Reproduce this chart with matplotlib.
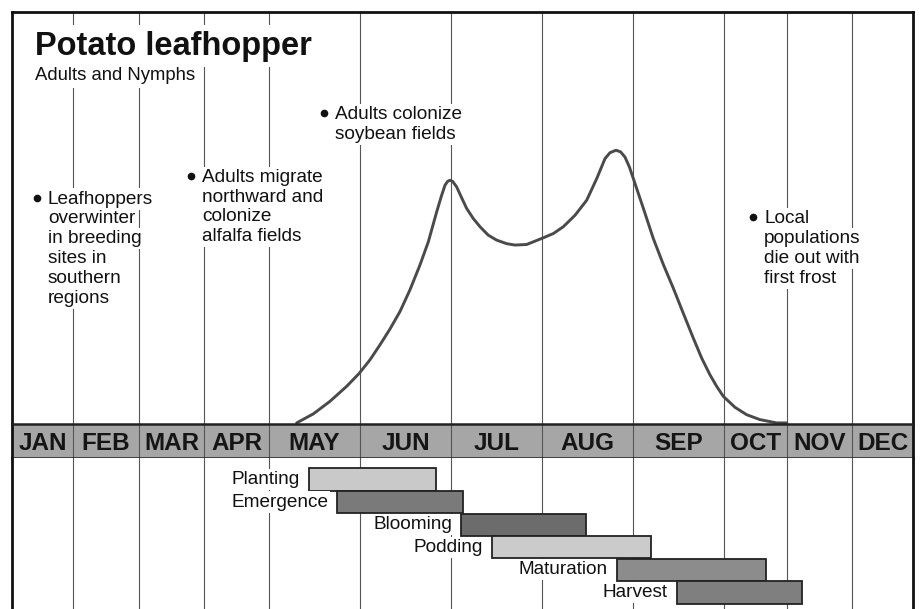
import matplotlib.pyplot as plt
import matplotlib.transforms as mtransforms
import numpy as np

plt.rcParams['font.family'] = ['Liberation Sans', 'DejaVu Sans']

months = ['JAN', 'FEB', 'MAR', 'APR', 'MAY', 'JUN',
          'JUL', 'AUG', 'SEP', 'OCT', 'NOV', 'DEC']
# drawn width of each month column; the growing season is stretched out
month_width = [61, 66, 65, 65, 91, 91, 91, 91, 91, 63, 65, 61]

# relative leafhopper abundance, time in months since Jan 1
season_t = [4.304, 4.487, 4.670, 4.854, 4.993, 5.110, 5.220, 5.330, 5.440,
            5.549, 5.659, 5.751, 5.843, 5.897, 5.934, 5.963, 5.989, 6.018,
            6.062, 6.117, 6.172, 6.245, 6.319, 6.410, 6.502, 6.612, 6.703,
            6.831, 6.996, 7.124, 7.234, 7.363, 7.491, 7.601, 7.692, 7.747,
            7.813, 7.864, 7.912, 7.960, 8.004, 8.114, 8.223, 8.333, 8.443,
            8.553, 8.663, 8.755, 8.846, 8.919, 8.993, 9.175, 9.360, 9.571,
            9.837, 9.995]
abundance = [0, 3.3, 7.9, 13.4, 18.2, 23.1, 28.6, 34.4, 40.8,
             48.7, 57.8, 66.3, 77.3, 83.3, 87.0, 88.4, 88.8, 88.4,
             86.4, 82.4, 78.5, 74.8, 71.8, 68.7, 66.9, 65.6, 65.1,
             65.3, 67.5, 69.3, 71.8, 76.0, 81.5, 89.4, 96.7, 98.9,
             99.8, 99.2, 97.3, 93.7, 89.4, 78.5, 67.5, 58.0, 49.3,
             40.1, 31.0, 23.7, 17.6, 13.4, 9.7, 5.7, 3.0, 1.2,
             0, 0]

# soybean crop stages
stages = ['Planting', 'Emergence', 'Blooming', 'Podding', 'Maturation', 'Harvest']
stage_start = [4.44, 4.75, 6.11, 6.45, 7.82, 8.48]
stage_end = [5.84, 6.13, 7.48, 8.20, 9.67, 10.23]
stage_color = ['#c9c9c9', '#7a7a7a', '#6c6c6c', '#cbcbcb', '#8c8c8c', '#7f7f7f']

notes = [
    (0.59, 80.3, ['Leafhoppers', 'overwinter', 'in breeding', 'sites in',
                  'southern', 'regions']),
    (2.97, 88.3, ['Adults migrate', 'northward and', 'colonize',
                  'alfalfa fields']),
    (4.725, 111.3, ['Adults colonize', 'soybean fields']),
    (9.635, 73.0, ['Local', 'populations', 'die out with', 'first frost']),
]

edges = np.concatenate([[0], np.cumsum(month_width)])
idx = np.arange(13)


def fwd(x):
    return np.interp(x, idx, edges)


def inv(x):
    return np.interp(x, edges, idx)


GRID = '#555555'
INK = '#111111'
white = dict(facecolor='white', edgecolor='none', pad=1.5)

fig = plt.figure(figsize=(9.21, 6.09), dpi=100)
left, width = 12 / 921, 901 / 921
ax = fig.add_axes([left, 185 / 609, width, 412 / 609])
band = fig.add_axes([left, 151 / 609, width, 34 / 609])
gantt = fig.add_axes([left, 0, width, 151 / 609])

for a in (ax, band, gantt):
    a.set_xscale('function', functions=(fwd, inv))
    a.set_xlim(0, 12)
    a.set_xticks([])
    a.set_yticks([])
    for s in a.spines.values():
        s.set_visible(False)
    for side in ('left', 'right'):
        a.spines[side].set_visible(True)
        a.spines[side].set_linewidth(2)
        a.spines[side].set_color(INK)
    for m in range(1, 12):
        a.axvline(m, color=GRID, lw=0.8, zorder=1)

# abundance curve
ax.set_ylim(-0.4, 150.4)
ax.spines['top'].set_visible(True)
ax.spines['top'].set_linewidth(2)
ax.spines['top'].set_color(INK)
ax.plot(season_t, abundance, color='#4a4a4a', lw=2.1,
        solid_joinstyle='round', solid_capstyle='round', clip_on=False, zorder=2)

ax.text(0.377, 134.7, 'Potato leafhopper', fontsize=23.5, fontweight='bold',
        va='baseline', color=INK, bbox=dict(facecolor='white', edgecolor='none', pad=4), zorder=3)
ax.text(0.377, 125.5, 'Adults and Nymphs', fontsize=13.3,
        va='baseline', color=INK, bbox=dict(facecolor='white', edgecolor='none', pad=3), zorder=3)

for x, y, lines in notes:
    dot = mtransforms.offset_copy(ax.transData, fig, x=-8, y=4.3, units='points')
    ax.plot([x], [y], 'o', ms=4.5, color=INK, transform=dot, zorder=4)
    for i, s in enumerate(lines):
        ax.annotate(s, (x, y), xytext=(0, -14.3 * i), textcoords='offset points',
                    fontsize=13.7, va='baseline', ha='left', color=INK,
                    bbox=white, zorder=3)

# month band
band.set_facecolor('#a6a6a6')
band.set_ylim(0, 1)
for side in ('top', 'bottom'):
    band.spines[side].set_visible(True)
    band.spines[side].set_linewidth(1.8)
    band.spines[side].set_color('#222222')
for i, name in enumerate(months):
    band.text(i + 0.5, 0.25, name, ha='center', va='baseline',
              fontsize=17.5, fontweight='bold', color='#151515')

# crop stage bars
gantt.set_ylim(5.73, -0.95)
widths = np.array(stage_end) - np.array(stage_start)
gantt.barh(range(len(stages)), widths, left=stage_start, height=0.98,
           color=stage_color, edgecolor='#222222', lw=1.3, zorder=2)
for i, name in enumerate(stages):
    gantt.annotate(name, (stage_start[i], i), xytext=(-6.5, 0),
                   textcoords='offset points', ha='right', va='center',
                   fontsize=13.7, color=INK, bbox=white, zorder=3)

fig.savefig('out.png', dpi=100)
